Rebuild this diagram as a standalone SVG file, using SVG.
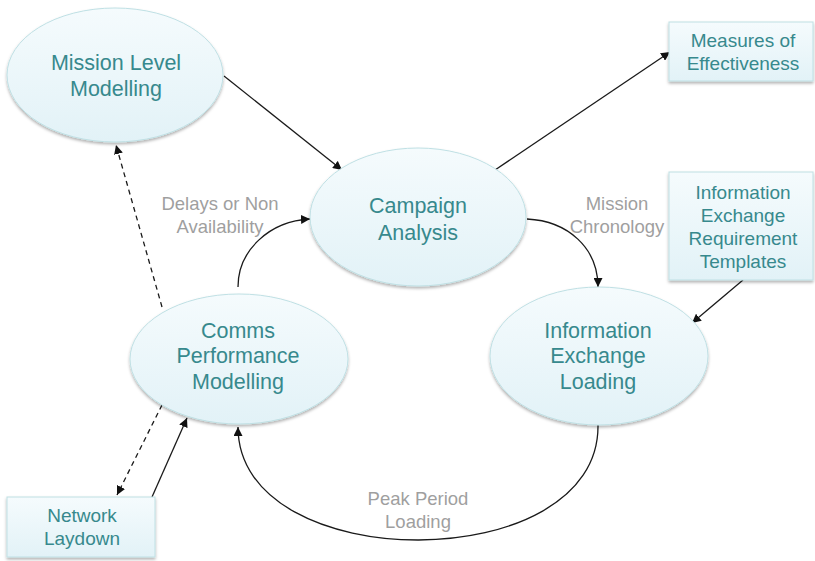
<svg xmlns="http://www.w3.org/2000/svg" width="815" height="561" viewBox="0 0 815 561">
<defs>
<linearGradient id="g" x1="0" y1="0" x2="0" y2="1">
<stop offset="0" stop-color="#f5fbfd"/>
<stop offset="1" stop-color="#e2f2f7"/>
</linearGradient>
<filter id="sh" x="-10%" y="-10%" width="120%" height="130%">
<feDropShadow dx="0" dy="2" stdDeviation="1.5" flood-color="#000" flood-opacity="0.3"/>
</filter>
<marker id="ah" viewBox="0 0 10 10" refX="10" refY="5" markerWidth="9" markerHeight="9" markerUnits="userSpaceOnUse" orient="auto">
<path d="M0,0 L10,5 L0,10 z" fill="#111"/>
</marker>
<style>
.n{fill:url(#g);stroke:#bfe0e4;stroke-width:1;filter:url(#sh)}
.t{font-family:"Liberation Sans",Arial,sans-serif;font-size:21.5px;fill:#37898d;text-anchor:middle}
.tb{font-family:"Liberation Sans",Arial,sans-serif;font-size:19px;fill:#37898d;text-anchor:middle}
.l{font-family:"Liberation Sans",Arial,sans-serif;font-size:18.5px;fill:#9f9f9f;text-anchor:middle}
.c{fill:none;stroke:#1a1a1a;stroke-width:1.3;marker-end:url(#ah)}
.d{stroke-dasharray:5,4}
</style>
</defs>
<g id="connectors">
<path class="c" d="M224,76 L342,170"/>
<path class="c" d="M495,170 L670,52"/>
<path class="c" d="M527,219 C568,221 598,248 598,287"/>
<path class="c" d="M743,280 L692,323"/>
<path class="c" d="M238,287 C238,250 270,221 310,219"/>
<path class="c d" d="M162,307 L116,145"/>
<path class="c d" d="M162,405 L117,495"/>
<path class="c" d="M152,497 L187,418"/>
<path class="c" d="M598,425 C600,578 238,578 238,427"/>
</g>
<g id="mission-level-modelling">
<ellipse class="n" cx="115" cy="75" rx="108" ry="67"/>
<text class="t" x="116" y="70">Mission Level</text>
<text class="t" x="116" y="96">Modelling</text>
</g>
<g id="campaign-analysis">
<ellipse class="n" cx="418" cy="217" rx="108" ry="69"/>
<text class="t" x="418" y="213">Campaign</text>
<text class="t" x="418" y="240">Analysis</text>
</g>
<g id="comms-performance-modelling">
<ellipse class="n" cx="239" cy="359" rx="109" ry="65"/>
<text class="t" x="238" y="338">Comms</text>
<text class="t" x="238" y="363">Performance</text>
<text class="t" x="238" y="389">Modelling</text>
</g>
<g id="information-exchange-loading">
<ellipse class="n" cx="599" cy="356" rx="109" ry="69"/>
<text class="t" x="598" y="338">Information</text>
<text class="t" x="598" y="363">Exchange</text>
<text class="t" x="598" y="389">Loading</text>
</g>
<g id="measures-of-effectiveness">
<rect class="n" x="669" y="22" width="144" height="59"/>
<text class="tb" x="743" y="47">Measures of</text>
<text class="tb" x="743" y="70">Effectiveness</text>
</g>
<g id="ier-templates">
<rect class="n" x="669" y="172" width="144" height="108"/>
<text class="tb" x="743" y="199">Information</text>
<text class="tb" x="743" y="222">Exchange</text>
<text class="tb" x="743" y="245">Requirement</text>
<text class="tb" x="743" y="268">Templates</text>
</g>
<g id="network-laydown">
<rect class="n" x="7" y="497" width="148" height="60"/>
<text class="tb" x="82" y="522">Network</text>
<text class="tb" x="82" y="545">Laydown</text>
</g>
<g id="labels">
<text class="l" x="220" y="210">Delays or Non</text>
<text class="l" x="220" y="233">Availability</text>
<text class="l" x="617" y="210">Mission</text>
<text class="l" x="617" y="233">Chronology</text>
<text class="l" x="418" y="505">Peak Period</text>
<text class="l" x="418" y="528">Loading</text>
</g>
</svg>
